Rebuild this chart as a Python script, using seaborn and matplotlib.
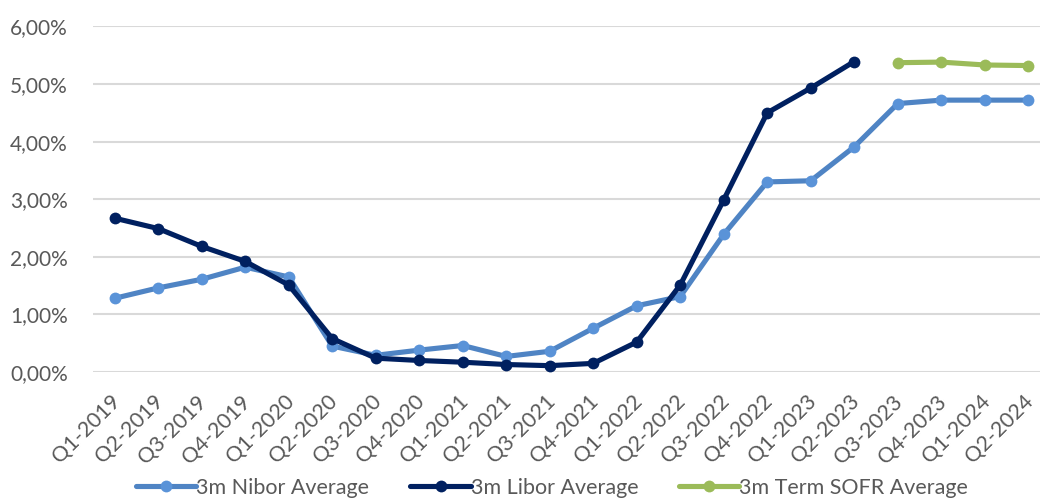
import numpy as np
import pandas as pd
import seaborn as sns
import matplotlib.pyplot as plt
import matplotlib.transforms as mtransforms
from matplotlib.ticker import FuncFormatter, MultipleLocator

quarters = ["Q1-2019", "Q2-2019", "Q3-2019", "Q4-2019",
            "Q1-2020", "Q2-2020", "Q3-2020", "Q4-2020",
            "Q1-2021", "Q2-2021", "Q3-2021", "Q4-2021",
            "Q1-2022", "Q2-2022", "Q3-2022", "Q4-2022",
            "Q1-2023", "Q2-2023", "Q3-2023", "Q4-2023",
            "Q1-2024", "Q2-2024"]

nibor = [1.28, 1.46, 1.61, 1.82, 1.65, 0.45, 0.29, 0.38, 0.46, 0.27, 0.36,
         0.76, 1.15, 1.31, 2.39, 3.30, 3.32, 3.91, 4.66, 4.72, 4.72, 4.72]
libor = [2.67, 2.49, 2.18, 1.92, 1.51, 0.58, 0.24, 0.20, 0.17, 0.13, 0.11,
         0.15, 0.52, 1.51, 2.99, 4.50, 4.93, 5.39]
sofr = [5.37, 5.38, 5.33, 5.32]

series_names = ["3m Nibor Average", "3m Libor Average", "3m Term SOFR Average"]
line_colors = ["#4F84C4", "#002060", "#9BBB59"]
marker_colors = ["#5A93D8", "#002060", "#9BBB59"]

frames = [
    pd.DataFrame({"x": np.arange(len(nibor)), "rate": nibor, "series": series_names[0]}),
    pd.DataFrame({"x": np.arange(len(libor)), "rate": libor, "series": series_names[1]}),
    pd.DataFrame({"x": np.arange(18, 18 + len(sofr)), "rate": sofr, "series": series_names[2]}),
]

sns.set_theme(style="white")
plt.rcParams["font.family"] = ["Lato", "DejaVu Sans"]

fig = plt.figure(figsize=(10.4, 4.98), dpi=100)
ax = fig.add_axes([0.0894, 0.253, 0.9106, 0.694])

for df, name, lc, mc in zip(frames, series_names, line_colors, marker_colors):
    sns.lineplot(data=df, x="x", y="rate", ax=ax, color=lc, linewidth=3.7,
                 marker="o", markersize=8.5, markeredgewidth=0,
                 markerfacecolor=mc, label=name, zorder=3)

ax.set_ylim(0, 6)
ax.set_xlim(-0.5, 21.27)
ax.yaxis.set_major_locator(MultipleLocator(1))
ax.yaxis.set_major_formatter(FuncFormatter(lambda v, p: f"{v:.2f}%".replace(".", ",")))
ax.grid(axis="y", color="#D9D9D9", linewidth=1.5, zorder=0)
ax.grid(axis="x", visible=False)
for s in ax.spines.values():
    s.set_visible(False)

ax.set_xticks(np.arange(len(quarters)))
ax.set_xticklabels(quarters, rotation=45, ha="right", va="top", rotation_mode="anchor")
ax.tick_params(axis="x", colors="#595959", labelsize=15.5, pad=14, length=0)
ax.tick_params(axis="y", colors="#595959", labelsize=15, pad=18, length=0)
# nudge the rotated quarter labels a few pixels left so the last one stays inside
shift = mtransforms.ScaledTranslation(-5 / 100, 0, fig.dpi_scale_trans)
for lbl in ax.get_xticklabels():
    lbl.set_transform(lbl.get_transform() + shift)
ax.set_xlabel("")
ax.set_ylabel("")

leg = ax.legend(loc="center", bbox_to_anchor=(0.485, -0.335), ncol=3, frameon=False,
                fontsize=15.5, handlelength=2.8, columnspacing=1.9, handletextpad=0.0,
                labelcolor="#595959")

fig.savefig("out.png", dpi=100)
